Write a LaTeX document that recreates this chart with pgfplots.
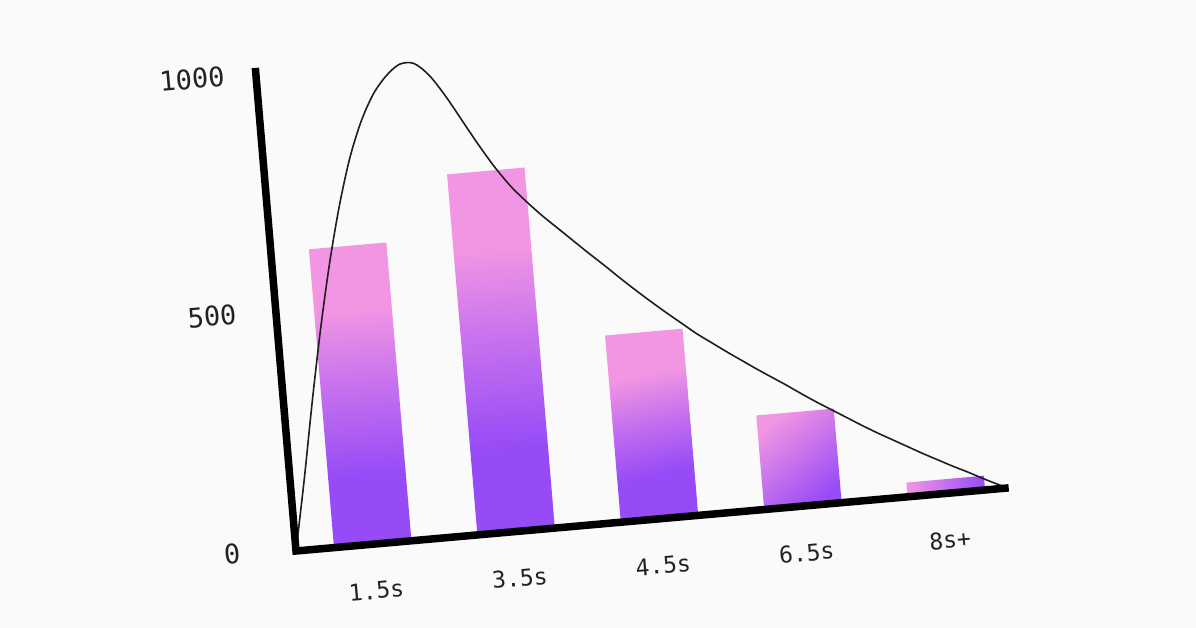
\documentclass[border=0pt]{standalone}
\usepackage{pgfplots}
\pgfplotsset{compat=1.18}
\usepackage{fontspec}
\newfontfamily\labfont{DejaVu Sans Mono}
\definecolor{bgcol}{HTML}{FAFAFA}
\definecolor{barpink}{HTML}{F296E3}
\definecolor{barpurple}{HTML}{964BF6}
\definecolor{barmid}{HTML}{C772EE}
\definecolor{labcol}{HTML}{222222}
\definecolor{curvecol}{HTML}{1E1E1E}
\pgfdeclareverticalshading{barsh}{100bp}{color(0bp)=(barpurple); color(36bp)=(barpurple); color(52bp)=(barmid); color(65bp)=(barpink); color(100bp)=(barpink)}
\begin{document}
\begin{tikzpicture}
\path[use as bounding box, fill=bgcol] (0,0) rectangle (1196bp,628bp);
\begin{axis}[
  at={(296bp,77bp)}, anchor=origin,
  x={(143.4bp,12.7bp)}, y={(-0.040bp,0.475bp)},
  xmin=0, xmax=4.97, ymin=0, ymax=1017,
  clip=false,
  axis line style={draw=none},
  major tick length=0pt,
  xticklabel pos=lower, yticklabel pos=left,
  xtick={0.535,1.535,2.535,3.535,4.535},
  xticklabels={1.5s,3.5s,4.5s,6.5s,8s+},
  ytick={0,500,1000},
  yticklabels={0,500,1000},
  xticklabel style={font={\labfont\fontsize{23bp}{26bp}\selectfont}, text=labcol, anchor=center, xshift=3.7bp, yshift=-46.6bp, rotate=5},
  yticklabel style={font={\labfont\fontsize{27bp}{30bp}\selectfont}, text=labcol, anchor=center, xshift=-64bp, yshift=-3bp, rotate=5},
]
% bars
\addplot[draw=none, mark=none, shading=barsh, shading angle=4]
  coordinates {(0.265,0) (0.805,0) (0.805,628) (0.265,628)} -- cycle;
\addplot[draw=none, mark=none, shading=barsh, shading angle=4]
  coordinates {(1.265,0) (1.805,0) (1.805,759) (1.265,759)} -- cycle;
\addplot[draw=none, mark=none, shading=barsh, shading angle=12]
  coordinates {(2.265,0) (2.805,0) (2.805,393) (2.265,393)} -- cycle;
\addplot[draw=none, mark=none, top color=barpink, bottom color=barpurple, shading angle=40]
  coordinates {(3.265,0) (3.805,0) (3.805,198) (3.265,198)} -- cycle;
\addplot[draw=none, mark=none, top color=barpink, bottom color=barpurple, shading angle=90]
  coordinates {(4.265,0) (4.805,0) (4.805,30) (4.265,30)} -- cycle;
% curve
\addplot[smooth, tension=0.5, mark=none, line width=1.6bp, color=curvecol] coordinates {
(0,0) (0.1,150) (0.2,310) (0.3,460) (0.4,595) (0.5,712) (0.6,810) (0.7,885)
(0.8,940) (0.9,976) (1.0,998) (1.1,997) (1.2,969) (1.3,923) (1.4,869)
(1.5,815) (1.6,765) (1.7,722) (1.8,687) (1.9,655) (2.0,626) (2.1,597)
(2.2,568) (2.3,540) (2.4,511) (2.5,483) (2.6,456) (2.7,430) (2.8,405)
(2.9,380) (3.0,358) (3.1,336) (3.2,315) (3.3,294) (3.4,274) (3.5,254)
(3.6,233) (3.7,213) (3.8,194) (3.9,175) (4.0,156) (4.1,138) (4.2,121)
(4.3,104) (4.4,87) (4.5,71) (4.6,55) (4.7,40) (4.8,24) (4.9,9) (4.96,1)
};
% axis lines
\draw[line width=7.5bp, line join=miter, black] (axis cs:0,1017) -- (axis cs:0,0) -- (axis cs:4.97,0);
\end{axis}
\end{tikzpicture}
\end{document}
